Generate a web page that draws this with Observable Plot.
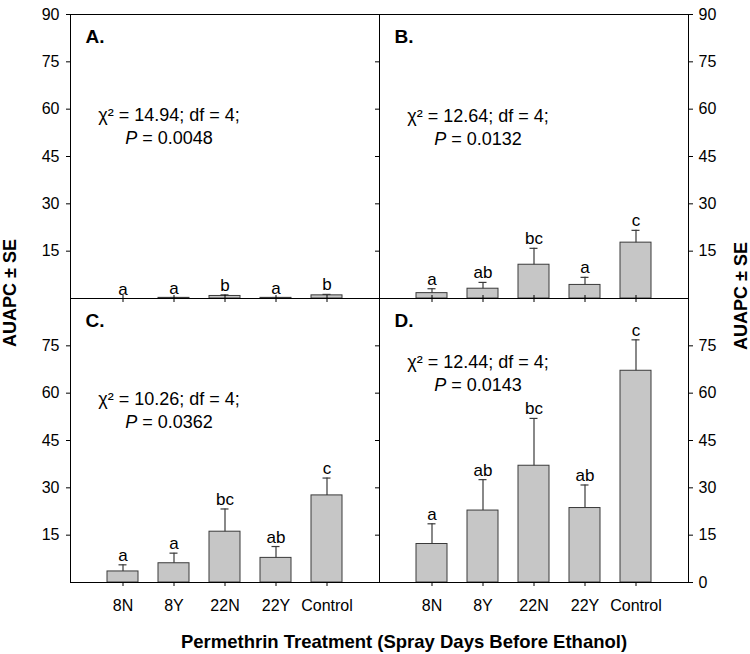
<!DOCTYPE html>
<html>
<head>
<meta charset="utf-8">
<script src="https://cdn.jsdelivr.net/npm/d3@7"></script>
<script src="https://cdn.jsdelivr.net/npm/@observablehq/plot@0.6"></script>
<style>
  body { margin: 0; background: #fff; font-family: "Liberation Sans", Arial, sans-serif; }
  #wrap { position: relative; width: 750px; height: 654px; }
  #chart { position: absolute; left: 0; top: 0; }
  .ytitle, .xtitle { position: absolute; font-weight: bold; white-space: nowrap; color: #000; line-height: 1; }
  .ytitle { font-size: 18px; transform: translate(-50%, -50%) rotate(-90deg); }
  .xtitle { font-size: 18.5px; transform: translate(-50%, -50%); }
</style>
</head>
<body>
<div id="wrap">
  <div id="chart"></div>
  <div class="ytitle" style="left:10px; top:293px;">AUAPC ± SE</div>
  <div class="ytitle" style="left:741px; top:296px;">AUAPC ± SE</div>
  <div class="xtitle" style="left:404px; top:642px;">Permethrin Treatment (Spray Days Before Ethanol)</div>
</div>
<script>
// treatments on the x axis
const treatments = ["8N", "8Y", "22N", "22Y", "Control"];

// panels
const panelNames = ["A.", "B.", "C.", "D."];
const panelCol = ["left", "right", "left", "right"];
const panelRow = ["top", "top", "bottom", "bottom"];

// AUAPC means and SE per panel
const meanA = [0, 0.2, 0.8, 0.2, 1.0];
const seA = [0, 0.1, 0.35, 0.1, 0.3];
const meanB = [1.7, 3.1, 10.7, 4.3, 17.7];
const seB = [1.4, 2.0, 5.2, 2.4, 3.9];
const meanC = [3.5, 6.1, 16.1, 7.8, 27.6];
const seC = [2.1, 3.2, 7.2, 3.6, 5.5];
const meanD = [12.2, 22.8, 37.0, 23.6, 67.1];
const seD = [6.4, 9.8, 15.0, 7.3, 9.8];

// significance letters
const lettersA = ["a", "a", "b", "a", "b"];
const lettersB = ["a", "ab", "bc", "a", "c"];
const lettersC = ["a", "a", "bc", "ab", "c"];
const lettersD = ["a", "ab", "bc", "ab", "c"];

// test statistics
const chiText = ["χ² = 14.94; df = 4;", "χ² = 12.64; df = 4;", "χ² = 10.26; df = 4;", "χ² = 12.44; df = 4;"];
const pText = ["P = 0.0048", "P = 0.0132", "P = 0.0362", "P = 0.0143"];

// axis ticks
const yTicksLeftTop = [15, 30, 45, 60, 75, 90];
const yTicksLeftBottom = [15, 30, 45, 60, 75];
const yTicksRightTop = [15, 30, 45, 60, 75, 90];
const yTicksRightBottom = [0, 15, 30, 45, 60, 75];
const yTicksDivider = [15, 30, 45, 60, 75];

// where the statistics sit (y value in each panel)
const statsY = [58, 57.7, 58.2, 69.7];

const means = [meanA, meanB, meanC, meanD];
const ses = [seA, seB, seC, seD];
const letters = [lettersA, lettersB, lettersC, lettersD];

const rows = [];
panelNames.forEach((p, j) => {
  treatments.forEach((t, i) => {
    rows.push({
      panel: p, col: panelCol[j], row: panelRow[j], treatment: t,
      mean: means[j][i], se: ses[j][i], top: means[j][i] + ses[j][i], letter: letters[j][i]
    });
  });
});
const errRows = rows.filter(d => d.se > 0);

const stats = panelNames.map((p, j) => ({
  panel: p, col: panelCol[j], row: panelRow[j], chi: chiText[j], p: pText[j], y: statsY[j]
}));

const ink = "#3a3a3a";

const chart = Plot.plot({
  width: 750,
  height: 654,
  marginLeft: 70,
  marginRight: 62,
  marginTop: 13,
  marginBottom: 72,
  style: {
    fontFamily: "Liberation Sans, Arial, sans-serif",
    fontSize: "16px",
    color: "black",
    background: "transparent"
  },
  fx: {domain: ["left", "right"], padding: 0, axis: null},
  fy: {domain: ["top", "bottom"], padding: 0, axis: null},
  x: {domain: treatments, paddingInner: 0.4, paddingOuter: 0.7, axis: null},
  y: {domain: [0, 90], axis: null, label: null},
  marks: [
    Plot.barY(rows, {fx: "col", fy: "row", x: "treatment", y: "mean", fill: "#c6c6c6", stroke: ink, strokeWidth: 1}),
    Plot.ruleX(errRows, {fx: "col", fy: "row", x: "treatment", y1: "mean", y2: "top", stroke: ink, strokeWidth: 1.2}),
    Plot.tickY(errRows, {fx: "col", fy: "row", x: "treatment", y: "top", stroke: ink, strokeWidth: 1.2, insetLeft: 11.5, insetRight: 11.5}),
    Plot.text(rows, {fx: "col", fy: "row", x: "treatment", y: "top", text: "letter", lineAnchor: "bottom", dy: -4, fontSize: 17}),
    Plot.text(stats, {fx: "col", fy: "row", x: () => "8Y", y: "y", text: "chi", dx: -5, fontSize: 18}),
    Plot.text(stats, {fx: "col", fy: "row", x: () => "8Y", y: "y", text: "p", dx: -5, dy: 23, fontSize: 18}),
    Plot.text(stats, {fx: "col", fy: "row", frameAnchor: "top-left", text: "panel", dx: 15, dy: 15,
      lineAnchor: "top", textAnchor: "start", fontWeight: "bold", fontSize: 19}),

    // x ticks on every panel, labels on the bottom row
    Plot.axisX({anchor: "bottom", facetAnchor: null, tickSize: 4, tickFormat: () => "", label: null}),
    Plot.axisX({anchor: "top", facetAnchor: "bottom", tickSize: 4, tickFormat: () => "", label: null}),
    Plot.axisX({anchor: "bottom", tickSize: 0, tickPadding: 17, label: null, fontSize: 16}),

    // y axes, different ticks per row
    Plot.axisY(yTicksLeftTop, {anchor: "left", fy: () => "top", tickSize: 4, tickPadding: 7, label: null, fontSize: 16}),
    Plot.axisY(yTicksLeftBottom, {anchor: "left", fy: () => "bottom", tickSize: 4, tickPadding: 7, label: null, fontSize: 16}),
    Plot.axisY(yTicksRightTop, {anchor: "right", fy: () => "top", tickSize: 4, tickPadding: 6, label: null, fontSize: 16}),
    Plot.axisY(yTicksRightBottom, {anchor: "right", fy: () => "bottom", tickSize: 4, tickPadding: 6, label: null, fontSize: 16}),
    Plot.axisY(yTicksDivider, {anchor: "left", facetAnchor: "right", tickSize: 4, tickFormat: () => "", label: null}),

    Plot.frame({stroke: "black", strokeWidth: 1})
  ]
});

// italic P in the second statistics line
d3.select(chart).selectAll("text")
  .filter(function () { return this.textContent.startsWith("P = "); })
  .each(function () {
    const t = d3.select(this);
    const rest = this.textContent.slice(1);
    t.text(null);
    t.append("tspan").attr("font-style", "italic").text("P");
    t.append("tspan").text(rest);
  });

document.getElementById("chart").append(chart);
</script>
</body>
</html>
